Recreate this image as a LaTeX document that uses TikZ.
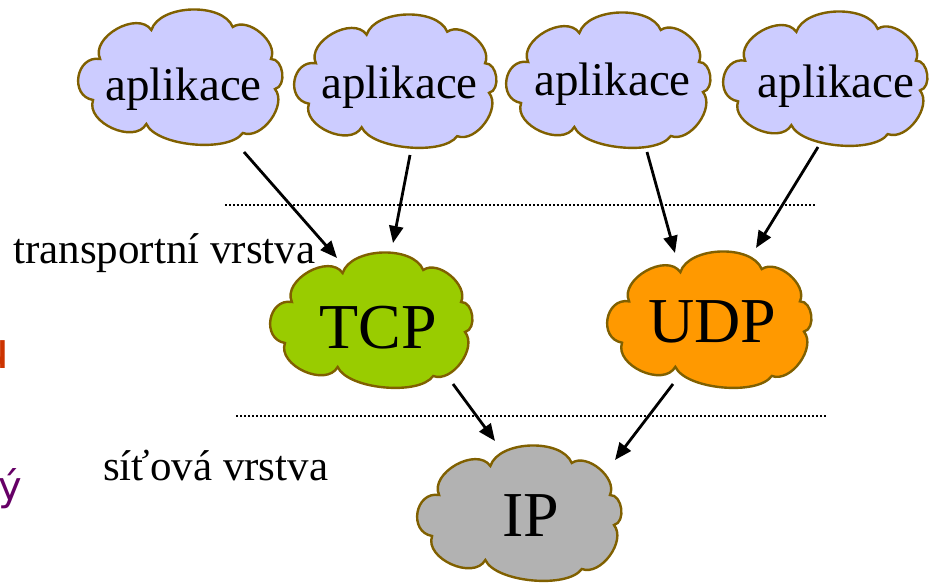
\documentclass[tikz,border=0pt]{standalone}
\usepackage{fontspec}
\setmainfont{Liberation Serif}
\newfontfamily\fragfont{DejaVu Sans}
\usetikzlibrary{arrows.meta}
\definecolor{cloudline}{RGB}{128,96,0}
\definecolor{appfill}{RGB}{204,204,255}
\definecolor{tcpfill}{RGB}{153,204,0}
\definecolor{udpfill}{RGB}{255,153,0}
\definecolor{ipfill}{RGB}{178,178,178}
\definecolor{fragred}{RGB}{204,51,0}
\definecolor{fragpurple}{RGB}{102,0,102}
\tikzset{
  cloudshape/.style={draw=cloudline, line width=2.4pt, fill=#1, line join=miter},
  apptext/.style={font=\fontsize{47}{50}\selectfont, anchor=base, inner sep=0pt},
  prototext/.style={font=\fontsize{64}{68}\selectfont, anchor=base, inner sep=0pt},
  layertext/.style={font=\fontsize{43}{46}\selectfont, anchor=base west, inner sep=0pt},
  flow/.style={line width=2.8pt, -{Triangle[length=17pt,width=14pt]}},
  layerline/.style={line width=1.8pt, dash pattern=on 1.6pt off 2.4pt},
}
% cloud drawn in a 204 x 134 box, then scaled to w x h
\newcommand\legacycloud[5]{%
  \begin{scope}[shift={(#1,#2)}, xscale=#3/204, yscale=#4/134]
    \path[cloudshape=#5] (73,20)
      to[bend left=70, looseness=0.85] (154,17)
      to[bend left=75, looseness=0.95] (192,49)
      to[bend left=85, looseness=1.05] (196,79)
      to[bend left=75, looseness=0.95] (164,123)
      to[bend left=60, looseness=0.65] (68,114)
      to[bend left=85, looseness=1.05] (15,90)
      to[bend left=90, looseness=1.5]  (22,49)
      to[bend left=85, looseness=1.05] (73,20) -- cycle;
  \end{scope}}
\begin{document}
\begin{tikzpicture}[x=1pt, y=-1pt]
  \useasboundingbox (0,0) rectangle (932,584);
  \clip (0,0) rectangle (932,584);
  % clouds
  \legacycloud{78}{10}{205}{134}{appfill}
  \legacycloud{294}{15}{203}{132}{appfill}
  \legacycloud{506}{13}{205}{134}{appfill}
  \legacycloud{723}{12}{205}{133}{appfill}
  \legacycloud{270}{253}{203}{134}{tcpfill}
  \legacycloud{607}{252}{205}{135}{udpfill}
  \legacycloud{417}{446}{205}{134}{ipfill}
  % texts
  \node[apptext] (a1) at (183.5,100) {aplikace};
  \node[apptext] (a2) at (399.5,98) {aplikace};
  \node[apptext] (a3) at (612.5,95) {aplikace};
  \node[apptext] (a4) at (836,97) {aplikace};
  \node[prototext] (tcp) at (378.5,348) {TCP};
  \node[prototext] (udp) at (712.5,342) {UDP};
  \node[prototext] (ip) at (530.5,536) {IP};
  \node[layertext] (transport) at (13,263) {transportní vrstva};
  \node[layertext] (network) at (103,480) {síťová vrstva};
  \node[font=\fragfont\fontsize{51}{54}\selectfont, text=fragred, anchor=base east, inner sep=0pt] (fragu) at (10,368) {u};
  \node[font=\fragfont\fontsize{40}{44}\selectfont, text=fragpurple, anchor=base west, inner sep=0pt] (fragy) at (-1.5,500) {ý};
  % layer separators
  \coordinate (s1a) at (225,205);
  \coordinate (s1b) at (815,205);
  \coordinate (s2a) at (236,416);
  \coordinate (s2b) at (826,416);
  \draw[layerline] (s1a) -- (s1b);
  \draw[layerline] (s2a) -- (s2b);
  % arrows
  \coordinate (e1s) at (244,152);  \coordinate (e1t) at (337,258);
  \coordinate (e2s) at (410,155);  \coordinate (e2t) at (393,243);
  \coordinate (e3s) at (647,152);  \coordinate (e3t) at (675,253);
  \coordinate (e4s) at (818,147);  \coordinate (e4t) at (756,248);
  \coordinate (e5s) at (453,384);  \coordinate (e5t) at (495,441);
  \coordinate (e6s) at (673,384);  \coordinate (e6t) at (615,460);
  \draw[flow] (e1s) -- (e1t);
  \draw[flow] (e2s) -- (e2t);
  \draw[flow] (e3s) -- (e3t);
  \draw[flow] (e4s) -- (e4t);
  \draw[flow] (e5s) -- (e5t);
  \draw[flow] (e6s) -- (e6t);
\end{tikzpicture}
\end{document}
